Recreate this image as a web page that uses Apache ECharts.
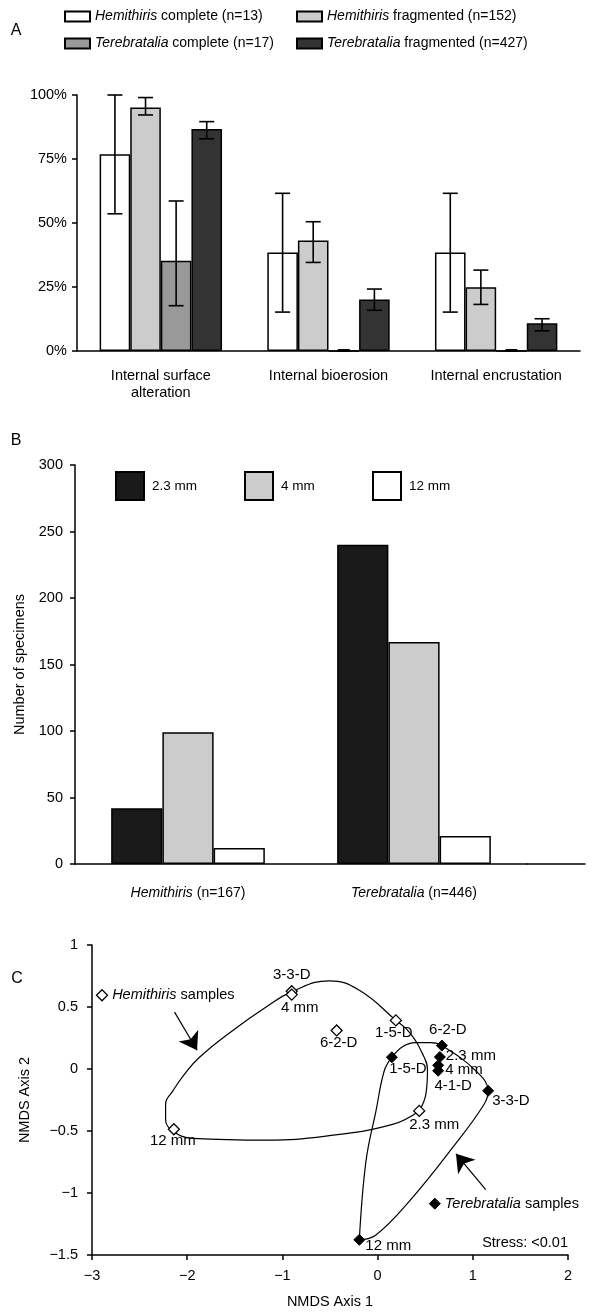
<!DOCTYPE html>
<html>
<head>
<meta charset="utf-8">
<script src="https://cdn.jsdelivr.net/npm/echarts@6/dist/echarts.min.js"></script>
<style>html,body{margin:0;padding:0;background:#fff}#c{width:609px;height:1313px}</style>
</head>
<body>
<div id="c"></div>
<script>
// ---------- Panel A data ----------
const aCategories = ['Internal surface\nalteration', 'Internal bioerosion', 'Internal encrustation'];
const aNames = ['Hemithiris complete (n=13)', 'Hemithiris fragmented (n=152)', 'Terebratalia complete (n=17)', 'Terebratalia fragmented (n=427)'];
const hemiComplete = [76.9, 38.5, 38.5];
const hemiCompleteLow = [53.6, 15.2, 15.2];
const hemiCompleteHigh = [100, 61.6, 61.6];
const hemiFrag = [95.1, 43.2, 24.9];
const hemiFragLow = [92.2, 34.6, 18.2];
const hemiFragHigh = [99.0, 50.5, 31.6];
const tereComplete = [35.3, 0, 0];
const tereCompleteLow = [17.7, null, null];
const tereCompleteHigh = [58.6, null, null];
const tereFrag = [86.7, 20.1, 10.8];
const tereFragLow = [82.9, 15.9, 7.9];
const tereFragHigh = [89.6, 24.2, 12.6];
const aTicks = [0, 25, 50, 75, 100];

// ---------- Panel B data ----------
const bCategories = ['Hemithiris (n=167)', 'Terebratalia (n=446)'];
const bNames = ['2.3 mm', '4 mm', '12 mm'];
const mesh23 = [42, 240];
const mesh4 = [99, 167];
const mesh12 = [12, 21];
const bTicks = [0, 50, 100, 150, 200, 250, 300];

// ---------- Panel C data ----------
const hemiPoints = [
  [-0.902, 0.627, '3-3-D'],
  [-0.902, 0.600, '4 mm'],
  [-0.430, 0.311, '6-2-D'],
  [0.192, 0.392, '1-5-D'],
  [0.437, -0.338, '2.3 mm'],
  [-2.140, -0.486, '12 mm']
];
const terePoints = [
  [0.675, 0.189, '6-2-D'],
  [0.150, 0.095, '1-5-D'],
  [0.654, 0.097, '2.3 mm'],
  [0.636, 0.030, '4 mm'],
  [0.636, -0.014, '4-1-D'],
  [1.161, -0.176, '3-3-D'],
  [-0.192, -1.378, '12 mm']
];
const hemiHull = [
  [0.437,-0.338],[0.157,-0.446],[-0.542,-0.541],[-1.171,-0.573],[-1.941,-0.559],[-2.150,-0.500],
  [-2.227,-0.405],[-2.227,-0.284],[-2.150,-0.176],[-2.028,-0.041],[-1.871,0.095],[-1.521,0.311],
  [-1.171,0.500],[-0.909,0.620],[-0.507,0.711],[-0.192,0.635],[0.192,0.392],[0.332,0.297],
  [0.472,0.122],[0.524,-0.014],[0.507,-0.203],[0.437,-0.338]
];
const tereHull = [
  [-0.192,-1.378],[-0.122,-0.743],[-0.017,-0.338],[0.070,-0.014],[0.150,0.095],[0.262,0.180],
  [0.400,0.213],[0.560,0.212],[0.675,0.189],[1.031,-0.014],[1.161,-0.176],[1.119,-0.284],
  [0.787,-0.635],[0.332,-1.068],[-0.017,-1.338],[-0.192,-1.378]
];
const hemiKey = [-2.895, 0.595];
const tereKey = [0.601, -1.086];
const hemiArrow = [[-2.133, 0.459], [-1.896, 0.151]];
const tereArrow = [[1.136, -0.973], [0.823, -0.684]];
const cXTicks = [-3, -2, -1, 0, 1, 2];
const cYTicks = [-1.5, -1, -0.5, 0, 0.5, 1];

// ---------- styles ----------
const FONT = '"Liberation Sans", Arial, Helvetica, sans-serif';
const FS = 14.5;
const axisLine = { lineStyle: { color: '#000', width: 1.5 } };
const axisTick = { length: 5, lineStyle: { color: '#000', width: 1.5 } };
const rich = fs => ({ i: { fontStyle: 'italic', fontSize: fs, fontFamily: FONT, color: '#000' }, n: { fontSize: fs, fontFamily: FONT, color: '#000' } });
const genusFmt = s => s.replace(/^(\S+)\s(.*)$/, '{i|$1} {n|$2}');
const minus = v => String(v).replace('-', '\u2212');

const aColors = ['#ffffff', '#cccccc', '#999999', '#333333'];
const aVals = [hemiComplete, hemiFrag, tereComplete, tereFrag];
const aLow = [hemiCompleteLow, hemiFragLow, tereCompleteLow, tereFragLow];
const aHigh = [hemiCompleteHigh, hemiFragHigh, tereCompleteHigh, tereFragHigh];
const A_GAP = 0.27;
const bColors = ['#1a1a1a', '#cccccc', '#ffffff'];
const bVals = [mesh23, mesh4, mesh12];

// label placement for panel C (style only)
const hemiLabel = {
  '3-3-D': { position: 'top', offset: [0, 1] },
  '4 mm': { position: 'bottom', offset: [8, -4] },
  '6-2-D': { position: 'bottom', offset: [2, -5] },
  '1-5-D': { position: 'bottom', offset: [-2, -5] },
  '2.3 mm': { position: 'bottom', offset: [15, -4] },
  '12 mm': { position: 'bottom', offset: [-1, -6] }
};
const tereLabel = {
  '6-2-D': { position: 'top', offset: [6, 2] },
  '1-5-D': { position: 'bottom', offset: [16, -6] },
  '2.3 mm': { position: 'right', offset: [-4, -1] },
  '4 mm': { position: 'right', offset: [-3, 5] },
  '4-1-D': { position: 'bottom', offset: [15, -2] },
  '3-3-D': { position: 'right', offset: [-6, 10] },
  '12 mm': { position: 'right', offset: [-4, 6] }
};

const series = [];
aNames.forEach((nm, i) => {
  series.push({
    name: nm, type: 'bar', xAxisIndex: 0, yAxisIndex: 0,
    data: aVals[i], barGap: '0%', barCategoryGap: (A_GAP * 100) + '%',
    itemStyle: { color: aColors[i], borderColor: '#000', borderWidth: 1.5 },
    emphasis: { disabled: true }, z: 2
  });
});
// error bars (kind 0) and zero-value bar markers (kind 1)
const errData = [];
aLow.forEach((lows, s) => lows.forEach((lo, c) => {
  if (lo !== null) errData.push([c, lo, aHigh[s][c], s, 0]);
  else if (aVals[s][c] === 0) errData.push([c, 0, 0, s, 1]);
}));
series.push({
  type: 'custom', xAxisIndex: 0, yAxisIndex: 0, z: 5,
  encode: { x: 0, y: [1, 2] },
  data: errData,
  renderItem: function (params, api) {
    const c = api.value(0), lo = api.value(1), hi = api.value(2), s = api.value(3), kind = api.value(4);
    const band = api.size([1, 0])[0];
    const bw = band * (1 - A_GAP) / 4;
    const center = api.coord([c, lo])[0];
    const x = center - band * (1 - A_GAP) / 2 + bw * (s + 0.5);
    const yl = api.coord([c, lo])[1], yh = api.coord([c, hi])[1];
    if (kind === 1) {
      return { type: 'line', shape: { x1: x - 6, y1: yl - 0.5, x2: x + 6, y2: yl - 0.5 }, style: { stroke: '#000', lineWidth: 3 } };
    }
    const cap = 7.5;
    const st = { stroke: '#000', lineWidth: 1.6 };
    return { type: 'group', children: [
      { type: 'line', shape: { x1: x, y1: yl, x2: x, y2: yh }, style: st },
      { type: 'line', shape: { x1: x - cap, y1: yh, x2: x + cap, y2: yh }, style: st },
      { type: 'line', shape: { x1: x - cap, y1: yl, x2: x + cap, y2: yl }, style: st }
    ]};
  }
});
bNames.forEach((nm, i) => {
  series.push({
    name: nm, type: 'bar', xAxisIndex: 1, yAxisIndex: 1,
    data: bVals[i], barGap: '0%', barCategoryGap: '32%',
    itemStyle: { color: bColors[i], borderColor: '#000', borderWidth: 1.5 },
    emphasis: { disabled: true }
  });
});
const lineStyleHull = { color: '#000', width: 1.2 };
series.push({ type: 'line', xAxisIndex: 2, yAxisIndex: 2, data: hemiHull, smooth: 0.45, symbol: 'none', lineStyle: lineStyleHull, z: 2, silent: true });
series.push({ type: 'line', xAxisIndex: 2, yAxisIndex: 2, data: tereHull, smooth: 0.4, symbol: 'none', lineStyle: lineStyleHull, z: 2, silent: true });
series.push({
  type: 'lines', coordinateSystem: 'cartesian2d', xAxisIndex: 2, yAxisIndex: 2, z: 3,
  symbol: ['none', 'arrow'], symbolSize: 17,
  lineStyle: { color: '#000', width: 1.2, opacity: 1 },
  data: [{ coords: hemiArrow }, { coords: tereArrow }], silent: true
});
const CFS = 15;
const labelBase = { show: true, color: '#000', fontSize: CFS, fontFamily: FONT, distance: 4 };
series.push({
  type: 'scatter', xAxisIndex: 2, yAxisIndex: 2, z: 6, symbol: 'diamond', symbolSize: 11,
  itemStyle: { color: '#fff', borderColor: '#000', borderWidth: 1.3, opacity: 1 },
  data: hemiPoints.map(p => ({ value: p, label: Object.assign({}, labelBase, hemiLabel[p[2]], { formatter: p[2] }) })),
  silent: true
});
series.push({
  type: 'scatter', xAxisIndex: 2, yAxisIndex: 2, z: 6, symbol: 'diamond', symbolSize: 11,
  itemStyle: { color: '#000', borderColor: '#000', borderWidth: 1, opacity: 1 },
  data: terePoints.map(p => ({ value: p, label: Object.assign({}, labelBase, tereLabel[p[2]], { formatter: p[2] }) })),
  silent: true
});
series.push({
  type: 'scatter', xAxisIndex: 2, yAxisIndex: 2, z: 6, symbol: 'diamond', symbolSize: 11,
  itemStyle: { color: '#fff', borderColor: '#000', borderWidth: 1.3, opacity: 1 },
  data: [hemiKey],
  label: Object.assign({}, labelBase, { position: 'right', fontSize: 14.5, formatter: '{i|Hemithiris} {n|samples}', rich: rich(14.5) }),
  silent: true
});
series.push({
  type: 'scatter', xAxisIndex: 2, yAxisIndex: 2, z: 6, symbol: 'diamond', symbolSize: 11,
  itemStyle: { color: '#000', borderColor: '#000', borderWidth: 1, opacity: 1 },
  data: [tereKey],
  label: Object.assign({}, labelBase, { position: 'right', fontSize: 14.5, formatter: '{i|Terebratalia} {n|samples}', rich: rich(14.5) }),
  silent: true
});

const legendA = (left, names) => ({
  orient: 'vertical', left: left, top: 3, itemWidth: 25, itemHeight: 10, itemGap: 10,
  selectedMode: false, data: names, icon: 'rect',
  formatter: genusFmt,
  textStyle: { fontSize: 14, fontFamily: FONT, color: '#000', lineHeight: 17, rich: rich(14) }
});
const legendB = (left, name) => ({
  orient: 'horizontal', left: left, top: 466, itemWidth: 28, itemHeight: 28,
  selectedMode: false, data: [name], icon: 'rect',
  textStyle: { fontSize: 13.5, fontFamily: FONT, color: '#000', padding: [0, 0, 0, 3] }
});

const option = {
  animation: false,
  backgroundColor: '#fff',
  textStyle: { fontFamily: FONT },
  legend: [
    legendA(59, [aNames[0], aNames[2]]),
    legendA(291, [aNames[1], aNames[3]]),
    legendB(110, bNames[0]), legendB(239, bNames[1]), legendB(367, bNames[2])
  ],
  grid: [
    { left: 77, top: 95, width: 503, height: 256 },
    { left: 75, top: 465, width: 452, height: 399 },
    { left: 92, top: 945, width: 476, height: 310 },
    { left: 527, top: 465, width: 58, height: 399 }
  ],
  xAxis: [
    { type: 'category', gridIndex: 0, data: aCategories, axisLine, axisTick,
      axisLabel: { color: '#000', fontSize: FS, fontFamily: FONT, margin: 16, lineHeight: 17, interval: 0 } },
    { type: 'category', gridIndex: 1, data: bCategories, axisLine, axisTick,
      axisLabel: { color: '#000', fontSize: 14, fontFamily: FONT, margin: 22, interval: 0, formatter: genusFmt, rich: rich(14) } },
    { type: 'value', gridIndex: 2, min: cXTicks[0], max: cXTicks[cXTicks.length - 1], interval: 1,
      splitLine: { show: false }, axisLine: Object.assign({ onZero: false }, axisLine), axisTick,
      axisLabel: { color: '#000', fontSize: FS, fontFamily: FONT, margin: 13, formatter: minus },
      name: 'NMDS Axis 1', nameLocation: 'middle', nameGap: 39,
      nameTextStyle: { color: '#000', fontSize: FS, fontFamily: FONT } },
    { type: 'value', gridIndex: 3, min: 0, max: 1, interval: 1,
      splitLine: { show: false }, axisLine: Object.assign({ onZero: false }, axisLine),
      axisTick: { show: false }, axisLabel: { show: false } }
  ],
  yAxis: [
    { type: 'value', gridIndex: 0, min: aTicks[0], max: aTicks[aTicks.length - 1], interval: 25,
      splitLine: { show: false }, axisLine: Object.assign({ show: true }, axisLine), axisTick: Object.assign({ show: true }, axisTick),
      axisLabel: { color: '#000', fontSize: FS, fontFamily: FONT, margin: 10, formatter: '{value}%' } },
    { type: 'value', gridIndex: 1, min: bTicks[0], max: bTicks[bTicks.length - 1], interval: 50,
      splitLine: { show: false }, axisLine: Object.assign({ show: true }, axisLine), axisTick: Object.assign({ show: true }, axisTick),
      axisLabel: { color: '#000', fontSize: FS, fontFamily: FONT, margin: 12 },
      name: 'Number of specimens', nameLocation: 'middle', nameGap: 46,
      nameTextStyle: { color: '#000', fontSize: FS, fontFamily: FONT } },
    { type: 'value', gridIndex: 2, min: cYTicks[0], max: cYTicks[cYTicks.length - 1], interval: 0.5,
      splitLine: { show: false }, axisLine: Object.assign({ show: true, onZero: false }, axisLine), axisTick: Object.assign({ show: true }, axisTick),
      axisLabel: { color: '#000', fontSize: FS, fontFamily: FONT, margin: 14, formatter: minus },
      name: 'NMDS Axis 2', nameLocation: 'middle', nameGap: 60,
      nameTextStyle: { color: '#000', fontSize: FS, fontFamily: FONT } },
    { type: 'value', gridIndex: 3, min: 0, max: 1, show: false }
  ],
  graphic: [
    { type: 'text', x: 16, y: 31, style: { text: 'A', font: '16px ' + FONT, fill: '#000', align: 'center', verticalAlign: 'middle' } },
    { type: 'text', x: 16, y: 441, style: { text: 'B', font: '16px ' + FONT, fill: '#000', align: 'center', verticalAlign: 'middle' } },
    { type: 'text', x: 17, y: 979, style: { text: 'C', font: '16px ' + FONT, fill: '#000', align: 'center', verticalAlign: 'middle' } },
    { type: 'text', x: 568, y: 1243, style: { text: 'Stress: <0.01', font: '14.5px ' + FONT, fill: '#000', align: 'right', verticalAlign: 'middle' } }
  ],
  series: series
};
const chart = echarts.init(document.getElementById('c'), null, { renderer: 'canvas' });
chart.setOption(option);
</script>
</body>
</html>
